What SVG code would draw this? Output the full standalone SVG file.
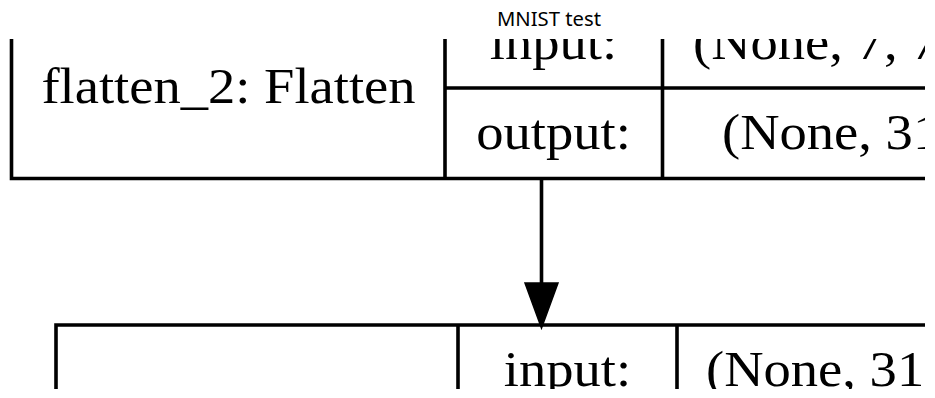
<svg xmlns="http://www.w3.org/2000/svg" width="935" height="398" viewBox="0 0 935 398">
<style>
.ln{stroke:#000;stroke-width:3.6;fill:none}
.t{font-family:"Liberation Serif","Times New Roman",serif;font-size:51px;fill:#000}
.title{font-family:"Noto Sans","Open Sans",sans-serif;font-size:19px;fill:#000}
</style>
<defs>
<clipPath id="clip"><rect x="0" y="39" width="925" height="350"/></clipPath>
</defs>
<rect width="935" height="398" fill="#fff"/>
<text class="title" x="497" y="26" textLength="104" lengthAdjust="spacingAndGlyphs">MNIST test</text>
<g clip-path="url(#clip)">
<g id="flatten_2">
<path class="ln" d="M11.5,-2 V178.5 H960 M445,-2 V178.5 M662.5,-2 V178.5 M445,88 H960"/>
<text class="t" transform="translate(228.5,103) scale(1.07,1)" text-anchor="middle">flatten_2: Flatten</text>
<text class="t" transform="translate(553.5,59) scale(1.07,1)" text-anchor="middle">input:</text>
<text class="t" transform="translate(693,59) scale(1.07,1)">(None, 7, 7, 64)</text>
<text class="t" transform="translate(553.5,149) scale(1.07,1)" text-anchor="middle">output:</text>
<text class="t" transform="translate(722,149) scale(1.07,1)">(None, 3136)</text>
</g>
<g id="connectors">
<line class="ln" x1="541.5" y1="178" x2="541.5" y2="286"/>
<polygon points="525,283 558,283 541.5,328" fill="#000" stroke="#000" stroke-width="1.5"/>
</g>
<g id="dense">
<path class="ln" d="M56,400 V325 H960 M458,325 V400 M677,325 V400"/>
<text class="t" transform="translate(567.5,386) scale(1.07,1)" text-anchor="middle">input:</text>
<text class="t" transform="translate(706,386) scale(1.07,1)">(None, 3136)</text>
</g>
</g>
</svg>
